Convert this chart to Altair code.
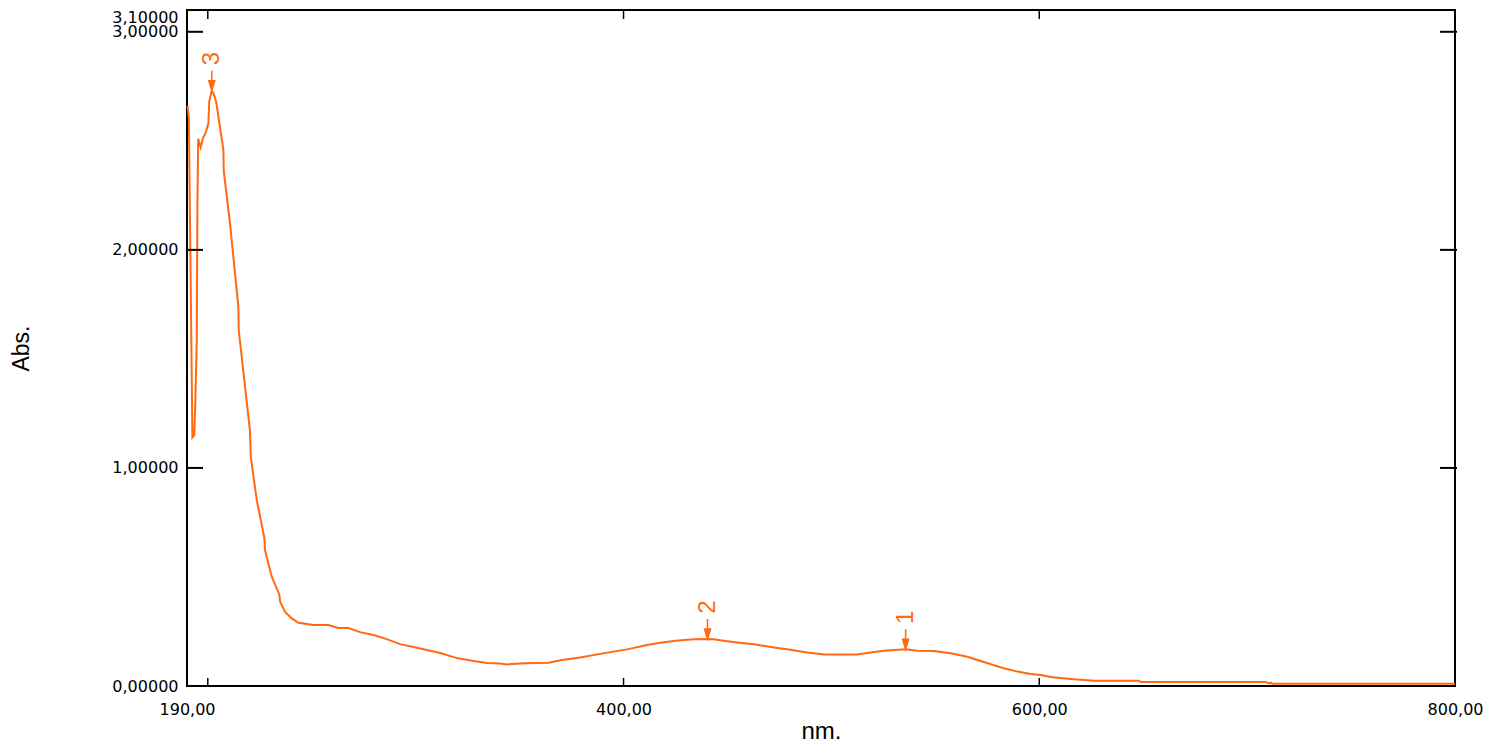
import altair as alt
import pandas as pd

# ---- data ----
wavelength_nm = [190.3, 190.9, 192.6, 193.5, 194.0, 194.7, 195.0, 195.4, 196.6, 197.6,
                 199.1, 200.3, 200.7, 201.9, 202.7, 204.0, 205.6, 207.5, 207.7, 210.7,
                 214.7, 214.9, 220.3, 220.7, 223.6, 227.2, 227.6, 230.8, 234.4, 234.8,
                 237.2, 240.4, 243.6, 250.8, 258.0, 262.8, 267.7, 273.3, 279.7, 286.1,
                 292.5, 299.0, 305.4, 311.8, 319.9, 327.8, 334.3, 340.7, 343.9, 352.7,
                 364.0, 370.4, 379.2, 392.1, 401.7, 411.3, 417.7, 425.0, 433.8, 440.4,
                 443.4, 448.2, 454.7, 462.7, 472.3, 478.7, 488.4, 496.4, 512.4, 518.8,
                 525.2, 535.7, 541.3, 549.3, 557.4, 565.4, 571.8, 580.6, 583.0, 589.5,
                 595.9, 600.7, 606.3, 615.1, 626.4, 648.0, 648.8, 709.0, 710.6, 711.4,
                 712.2, 800.0]
absorbance = [2.66, 2.60, 1.14, 1.15, 1.30, 1.58, 2.20, 2.51, 2.47, 2.51,
              2.54, 2.58, 2.68, 2.73, 2.72, 2.68, 2.58, 2.46, 2.36, 2.12,
              1.74, 1.63, 1.17, 1.05, 0.85, 0.68, 0.62, 0.50, 0.42, 0.385,
              0.34, 0.31, 0.29, 0.28, 0.28, 0.266, 0.266, 0.247, 0.234, 0.215,
              0.192, 0.179, 0.165, 0.151, 0.128, 0.115, 0.105, 0.103, 0.099, 0.104,
              0.107, 0.119, 0.131, 0.153, 0.168, 0.188, 0.198, 0.208, 0.214, 0.215,
              0.214, 0.208, 0.200, 0.191, 0.177, 0.169, 0.154, 0.145, 0.145, 0.154,
              0.162, 0.168, 0.162, 0.160, 0.150, 0.134, 0.115, 0.088, 0.081, 0.066,
              0.055, 0.050, 0.040, 0.032, 0.024, 0.024, 0.018, 0.018, 0.012, 0.015,
              0.0105, 0.0105]

peak_nm = [535.7, 440.4, 201.9]
peak_abs = [0.168, 0.215, 2.73]
peak_label = ["1", "2", "3"]

x_label_values = [190, 400, 600, 800]
x_tick_values = [200, 400, 600]
y_label_values = [0, 1, 2, 3, 3.1]
y_tick_values = [1, 2, 3]

# ---- styling ----
ORANGE = "#ff6a10"
W, H = 1268, 676
LABEL_FONT = "DejaVu Sans"
TITLE_FONT = "Liberation Sans"

spec_df = pd.DataFrame({"nm": wavelength_nm, "abs": absorbance})
peaks_df = pd.DataFrame({"nm": peak_nm, "abs": peak_abs, "label": peak_label})
xt_df = pd.DataFrame({"nm": x_tick_values})
yt_df = pd.DataFrame({"abs": y_tick_values})

xscale = alt.Scale(domain=[190, 800], nice=False, zero=False)
yscale = alt.Scale(domain=[0, 3.1], nice=False, zero=False)

x_axis = alt.Axis(
    values=x_label_values,
    labelExpr="replace(format(datum.value, '.2f'), '.', ',')",
    ticks=False, tickSize=0, domain=False, grid=False,
    labelPadding=15, labelFont=LABEL_FONT, labelFontSize=16, labelColor="black",
    labelOverlap=False, labelFlush=False,
    title="nm.", titleFont=TITLE_FONT, titleFontSize=24, titleFontWeight="normal",
    titleColor="black", titleBaseline="alphabetic", titleY=52,
)
y_axis = alt.Axis(
    values=y_label_values,
    labelExpr="replace(format(datum.value, '.5f'), '.', ',')",
    ticks=False, tickSize=0, domain=False, grid=False,
    labelPadding=9, labelFont=LABEL_FONT, labelFontSize=16, labelColor="black",
    labelOverlap=False, labelFlush=False, labelBaseline="middle",
    labelOffset={"condition": {"test": "datum.value > 3.05", "value": 7}, "value": 0},
    title="Abs.", titleFont=TITLE_FONT, titleFontSize=23, titleFontWeight="normal",
    titleColor="black", titleAngle=270, titleBaseline="middle",
    titleX=-166, titleY=338,
)

X = alt.X("nm:Q", scale=xscale, title="nm.")
Y = alt.Y("abs:Q", scale=yscale, title="Abs.")

line = alt.Chart(spec_df).mark_line(color=ORANGE, strokeWidth=2).encode(
    x=alt.X("nm:Q", scale=xscale, axis=x_axis),
    y=alt.Y("abs:Q", scale=yscale, axis=y_axis),
)

xt_bottom = alt.Chart(xt_df).mark_rule(color="black", strokeWidth=1.5).encode(
    x=X, y=alt.value(H), y2=alt.value(H - 8))
xt_top = alt.Chart(xt_df).mark_rule(color="black", strokeWidth=1.5).encode(
    x=X, y=alt.value(0), y2=alt.value(9))
yt_left = alt.Chart(yt_df).mark_rule(color="black", strokeWidth=2).encode(
    y=Y, x=alt.value(0), x2=alt.value(16))
yt_right = alt.Chart(yt_df).mark_rule(color="black", strokeWidth=2).encode(
    y=Y, x=alt.value(W - 15), x2=alt.value(W + 2))

ARROW = "M0,-2L0,-1M-0.3,-1L0.3,-1L0,0Z"
arrows = alt.Chart(peaks_df).mark_point(
    shape=ARROW, size=400, filled=True, fill=ORANGE, stroke=ORANGE,
    strokeWidth=1.5, opacity=1,
).encode(x=X, y=Y)
labels = alt.Chart(peaks_df).mark_text(
    angle=270, dx=32, align="center", baseline="middle",
    font=TITLE_FONT, fontSize=24, color=ORANGE,
).encode(x=X, y=Y, text="label:N")

chart = alt.layer(line, xt_bottom, xt_top, yt_left, yt_right, arrows, labels).properties(
    width=W, height=H,
    autosize=alt.AutoSizeParams(type="none"),
    padding={"left": 179, "top": 2, "right": 37, "bottom": 56},
    background="white",
).configure_view(stroke="black", strokeWidth=2)

chart.save("out.html", embed_options={"renderer": "svg", "actions": False})
